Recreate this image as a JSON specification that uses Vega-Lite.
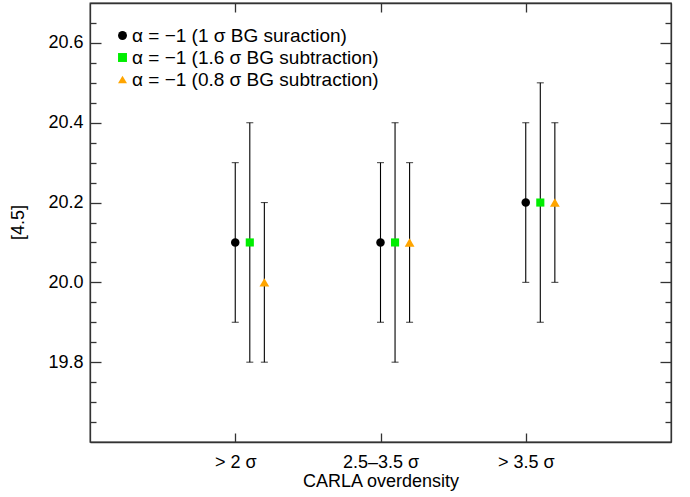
{
  "$schema": "https://vega.github.io/schema/vega-lite/v6.json",
  "width": 581,
  "height": 439,
  "autosize": {"type": "none"},
  "padding": {"left": 90, "top": 3, "right": 19, "bottom": 55},
  "background": "white",
  "config": {
    "font": "Liberation Sans",
    "view": {"stroke": "#333", "strokeWidth": 1.3},
    "axis": {
      "domainColor": "#333", "domainWidth": 1.3,
      "tickColor": "#333", "tickWidth": 1.3,
      "labelColor": "black", "titleColor": "black",
      "labelFont": "Liberation Sans", "titleFont": "Liberation Sans",
      "labelFontSize": 18, "titleFontSize": 18, "titleFontWeight": "normal",
      "grid": false, "labelOverlap": false, "labelFlush": false
    },
    "legend": {
      "labelFont": "Liberation Sans", "labelFontSize": 19, "labelColor": "black",
      "orient": "none", "legendX": 23, "legendY": 23, "labelLimit": 0,
      "rowPadding": 2, "labelOffset": 0, "symbolSize": 80, "symbolStrokeWidth": 0
    }
  },
  "data": {
    "values": [
      {"group": "> 2 σ", "series": "α = −1 (1 σ BG suraction)", "y": 20.1, "lo": 19.9, "hi": 20.3},
      {"group": "> 2 σ", "series": "α = −1 (1.6 σ BG subtraction)", "y": 20.1, "lo": 19.8, "hi": 20.4},
      {"group": "> 2 σ", "series": "α = −1 (0.8 σ BG subtraction)", "y": 20.0, "lo": 19.8, "hi": 20.2},
      {"group": "2.5–3.5 σ", "series": "α = −1 (1 σ BG suraction)", "y": 20.1, "lo": 19.9, "hi": 20.3},
      {"group": "2.5–3.5 σ", "series": "α = −1 (1.6 σ BG subtraction)", "y": 20.1, "lo": 19.8, "hi": 20.4},
      {"group": "2.5–3.5 σ", "series": "α = −1 (0.8 σ BG subtraction)", "y": 20.1, "lo": 19.9, "hi": 20.3},
      {"group": "> 3.5 σ", "series": "α = −1 (1 σ BG suraction)", "y": 20.2, "lo": 20.0, "hi": 20.4},
      {"group": "> 3.5 σ", "series": "α = −1 (1.6 σ BG subtraction)", "y": 20.2, "lo": 19.9, "hi": 20.5},
      {"group": "> 3.5 σ", "series": "α = −1 (0.8 σ BG subtraction)", "y": 20.2, "lo": 20.0, "hi": 20.4}
    ]
  },
  "encoding": {
    "x": {
      "field": "group", "type": "ordinal",
      "sort": ["> 2 σ", "2.5–3.5 σ", "> 3.5 σ"],
      "scale": {"type": "point", "padding": 1},
      "axis": null
    },
    "xOffset": {
      "field": "series", "type": "nominal",
      "sort": ["α = −1 (1 σ BG suraction)", "α = −1 (1.6 σ BG subtraction)", "α = −1 (0.8 σ BG subtraction)"],
      "scale": {"type": "point", "range": [0, 29.1], "padding": 0}
    }
  },
  "layer": [
    {
      "mark": {"type": "rule", "color": "black", "strokeWidth": 1.1},
      "encoding": {
        "x": {
          "field": "group", "type": "ordinal",
          "sort": ["> 2 σ", "2.5–3.5 σ", "> 3.5 σ"],
          "scale": {"type": "point", "padding": 1},
          "axis": {"orient": "bottom", "title": "CARLA overdensity", "labelAngle": 0,
                   "tickSize": -9, "labelPadding": 20, "titleY": 39, "titleBaseline": "middle"}
        },
        "y": {
          "field": "lo", "type": "quantitative",
          "scale": {"domain": [19.6, 20.7], "nice": false, "zero": false},
          "axis": {
            "orient": "left", "title": "[4.5]",
            "values": [19.65, 19.7, 19.75, 19.8, 19.85, 19.9, 19.95, 20.0, 20.05, 20.1, 20.15, 20.2, 20.25, 20.3, 20.35, 20.4, 20.45, 20.5, 20.55, 20.6, 20.65],
            "labelExpr": "abs(datum.value*5-round(datum.value*5))<0.001 ? format(datum.value,'.1f') : ''",
            "tickSize": {"condition": {"test": "abs(datum.value*5-round(datum.value*5))<0.001", "value": -11}, "value": -6},
            "labelPadding": 18,
            "titleX": -72, "titleY": 219, "titleAngle": -90, "titleBaseline": "middle", "titleAlign": "center"
          }
        },
        "y2": {"field": "hi"}
      }
    },
    {
      "mark": {"type": "tick", "color": "black", "size": 7, "thickness": 1.1, "orient": "horizontal"},
      "encoding": {
        "y": {"field": "lo", "type": "quantitative", "axis": null}
      }
    },
    {
      "mark": {"type": "tick", "color": "black", "size": 7, "thickness": 1.1, "orient": "horizontal"},
      "encoding": {
        "y": {"field": "hi", "type": "quantitative", "axis": null}
      }
    },
    {
      "mark": {"type": "point", "filled": true, "opacity": 1, "strokeWidth": 0},
      "encoding": {
        "x": {
          "field": "group", "type": "ordinal",
          "sort": ["> 2 σ", "2.5–3.5 σ", "> 3.5 σ"],
          "scale": {"type": "point", "padding": 1},
          "axis": {"orient": "top", "title": null, "labels": false, "tickSize": -9, "domain": true}
        },
        "y": {
          "field": "y", "type": "quantitative",
          "axis": {
            "orient": "right", "title": null, "labels": false,
            "values": [19.65, 19.7, 19.75, 19.8, 19.85, 19.9, 19.95, 20.0, 20.05, 20.1, 20.15, 20.2, 20.25, 20.3, 20.35, 20.4, 20.45, 20.5, 20.55, 20.6, 20.65],
            "tickSize": {"condition": {"test": "abs(datum.value*5-round(datum.value*5))<0.001", "value": -11}, "value": -6}
          }
        },
        "color": {
          "field": "series", "type": "nominal",
          "sort": ["α = −1 (1 σ BG suraction)", "α = −1 (1.6 σ BG subtraction)", "α = −1 (0.8 σ BG subtraction)"],
          "scale": {"range": ["black", "#00ee00", "#ffa500"]},
          "legend": {
            "title": null,
            "symbolType": {"expr": "scale('shape', datum.value)"}
          }
        },
        "shape": {
          "field": "series", "type": "nominal",
          "sort": ["α = −1 (1 σ BG suraction)", "α = −1 (1.6 σ BG subtraction)", "α = −1 (0.8 σ BG subtraction)"],
          "scale": {"range": ["circle", "square", "triangle-up"]},
          "legend": null
        },
        "size": {
          "field": "series", "type": "nominal",
          "sort": ["α = −1 (1 σ BG suraction)", "α = −1 (1.6 σ BG subtraction)", "α = −1 (0.8 σ BG subtraction)"],
          "scale": {"type": "ordinal", "range": [72, 66, 95]},
          "legend": null
        }
      }
    }
  ],
  "resolve": {"axis": {"x": "independent", "y": "independent"}}
}
